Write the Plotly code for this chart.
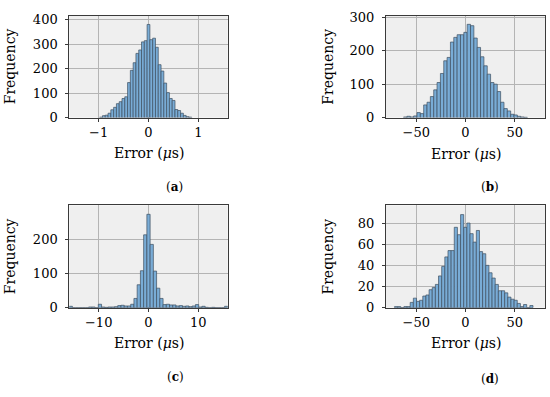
import plotly.graph_objects as go

# ---------------- data ----------------
# (a) error histogram, bin width and first bin centre (µs)
a_w = 0.056
a_c0 = -17 * 0.056
a_counts = [2, 8, 10, 18, 32, 42, 57, 65, 78, 85, 143, 193, 224, 262, 276, 309, 314,
            380,
            318, 324, 287, 216, 190, 141, 102, 78, 70, 33, 29, 18, 9, 4, 2]

# (b)
b_w = 3.4
b_c0 = -18 * 3.4
b_counts = [2, 4, 2, 5, 15, 12, 38, 46, 63, 83, 105, 132, 170, 180, 226, 240, 248, 248, 255,
            279, 275, 238, 210, 182, 155, 130, 105, 100, 78, 46, 27, 20, 10, 8, 4, 2, 1]

# (c)
c_w = 0.65
c_c0 = -24 * 0.65
c_counts = [4, 0, 0, 0, 0, 0, 2, 2, 0, 10, 2, 1, 2, 2, 3, 6, 7, 5, 5, 10, 27, 67, 108, 213,
            273,
            185, 107, 57, 27, 9, 10, 8, 8, 5, 6, 4, 5, 3, 5, 9, 2, 4, 1, 0, 1, 0, 0, 0, 4]

# (d)
d_w = 3.2
d_c0 = -3.4 - 21 * 3.2
d_counts = [1, 1, 0, 1, 1, 5, 9, 6, 7, 11, 12, 17, 19, 22, 30, 39, 48, 54, 54, 76, 69,
            88,
            76, 80, 70, 62, 73, 53, 51, 40, 33, 28, 22, 16, 16, 14, 10, 8, 7, 4, 1, 3, 0, 2]

x_ranges = [[-1.59, 1.59], [-80.8, 80.8], [-15.9, 15.9], [-80.8, 80.8]]
y_ranges = [[0, 416], [0, 305], [0, 299], [0, 96.7]]
x_ticks = [[-1, 0, 1], [-50, 0, 50], [-10, 0, 10], [-50, 0, 50]]
y_ticks = [[0, 100, 200, 300, 400], [0, 100, 200, 300], [0, 100, 200],
           [0, 20, 40, 60, 80]]
panel_labels = ["a", "b", "c", "d"]
x_title = "Error (<i>μ</i>s)"
y_title = "Frequency"

# ---------------- layout geometry (window pixels) ----------------
W, H = 550, 397
boxes = [  # x0, x1, ytop, ybottom
    (69.3, 227.7, 10.0, 115.7),
    (386.0, 545.0, 10.0, 115.7),
    (69.3, 227.7, 206.7, 312.7),
    (386.0, 545.0, 206.7, 312.7),
]
ytitle_x = [9.7, 328.0, 9.7, 328.0]
xtitle_y = [152.5, 153.0, 349.0, 349.0]
label_pos = [(174.5, 187.5), (490.0, 188.0), (175.0, 385.0), (490.0, 386.5)]


def px(x):
    return x / W


def py(y):
    return 1 - y / H


FONT = "DejaVu Serif"
bar_fill = "#79acd6"
bar_edge = "#3e4f60"

fig = go.Figure()
series = [(a_c0, a_w, a_counts), (b_c0, b_w, b_counts),
          (c_c0, c_w, c_counts), (d_c0, d_w, d_counts)]

for i, (c0, w, counts) in enumerate(series):
    centers = [c0 + k * w for k in range(len(counts))]
    sfx = "" if i == 0 else str(i + 1)
    fig.add_trace(go.Bar(
        x=centers, y=counts, width=w,
        marker=dict(color=bar_fill, line=dict(color=bar_edge, width=0.7)),
        xaxis="x" + sfx, yaxis="y" + sfx, showlegend=False,
    ))

annotations = []
for i, (x0, x1, yt, yb) in enumerate(boxes):
    sfx = "" if i == 0 else str(i + 1)
    common = dict(
        showgrid=True, gridcolor="#b4b4b4", gridwidth=1,
        showline=True, linecolor="#3a3a3a", linewidth=1, mirror=True,
        ticks="outside", ticklen=3, tickcolor="#3a3a3a",
        tickfont=dict(family=FONT, size=13, color="black"),
        zeroline=False, fixedrange=True,
    )
    fig.layout["xaxis" + sfx] = dict(
        domain=[px(x0), px(x1)], range=x_ranges[i],
        tickmode="array", tickvals=x_ticks[i],
        ticktext=[("−" + str(abs(v))) if v < 0 else str(v) for v in x_ticks[i]],
        ticklabelstandoff=0,
        anchor="y" + sfx, **common)
    fig.layout["yaxis" + sfx] = dict(
        domain=[py(yb), py(yt)], range=y_ranges[i],
        tickmode="array", tickvals=y_ticks[i],
        ticklabelstandoff=5,
        anchor="x" + sfx, **common)
    annotations.append(dict(
        text=x_title, x=px((x0 + x1) / 2), y=py(xtitle_y[i]),
        xref="paper", yref="paper", xanchor="center", yanchor="middle",
        showarrow=False, font=dict(family=FONT, size=14, color="black")))
    annotations.append(dict(
        text=y_title, x=px(ytitle_x[i]), y=py((yt + yb) / 2),
        xref="paper", yref="paper", xanchor="center", yanchor="middle",
        textangle=-90, showarrow=False,
        font=dict(family=FONT, size=14, color="black")))
    lx, ly = label_pos[i]
    annotations.append(dict(
        text="(<b>" + panel_labels[i] + "</b>)", x=px(lx), y=py(ly),
        xref="paper", yref="paper", xanchor="center", yanchor="middle",
        showarrow=False, font=dict(family=FONT, size=12, color="black")))

fig.update_layout(
    width=W, height=H,
    margin=dict(l=0, r=0, t=0, b=0),
    paper_bgcolor="white", plot_bgcolor="#efefef",
    bargap=0, annotations=annotations,
    font=dict(family=FONT, size=12, color="black"),
)

fig.write_html("out.html",
               config={"displayModeBar": False, "staticPlot": True},
               post_script="document.body.style.margin='0px';")
